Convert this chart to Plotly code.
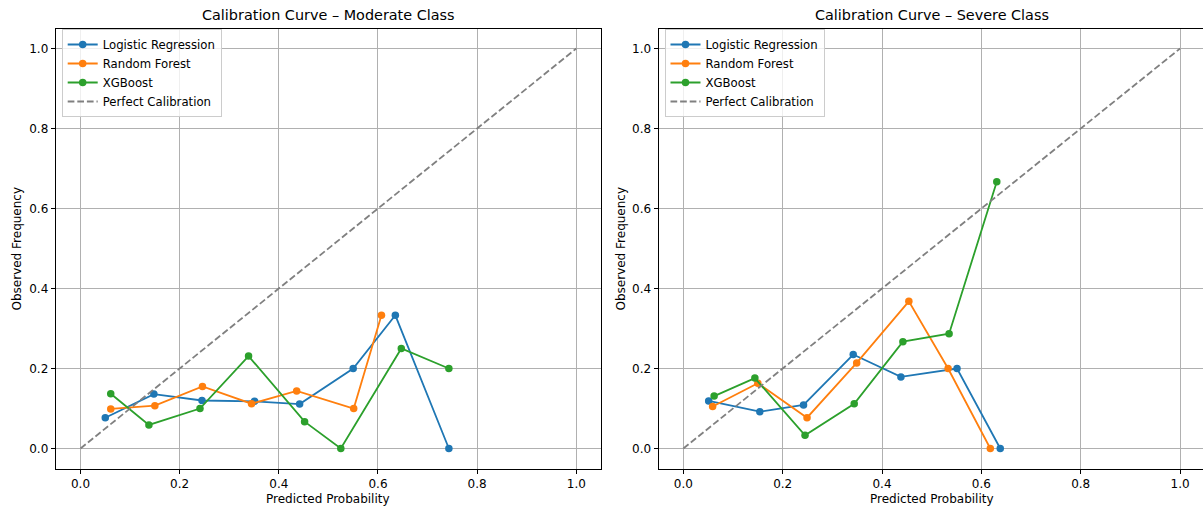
import plotly.graph_objects as go

# ---- data ----
mod_lr_x = [0.050, 0.148, 0.245, 0.351, 0.442, 0.550, 0.635, 0.743]
mod_lr_y = [0.077, 0.136, 0.120, 0.118, 0.111, 0.200, 0.333, 0.000]
mod_rf_x = [0.061, 0.150, 0.246, 0.345, 0.436, 0.551, 0.607]
mod_rf_y = [0.099, 0.107, 0.155, 0.112, 0.144, 0.100, 0.333]
mod_xgb_x = [0.061, 0.138, 0.241, 0.339, 0.452, 0.525, 0.647, 0.743]
mod_xgb_y = [0.137, 0.059, 0.100, 0.231, 0.067, 0.000, 0.250, 0.200]

sev_lr_x = [0.051, 0.154, 0.242, 0.342, 0.438, 0.551, 0.638]
sev_lr_y = [0.119, 0.092, 0.109, 0.235, 0.179, 0.200, 0.000]
sev_rf_x = [0.059, 0.150, 0.249, 0.349, 0.454, 0.533, 0.618]
sev_rf_y = [0.105, 0.163, 0.077, 0.214, 0.368, 0.200, 0.000]
sev_xgb_x = [0.062, 0.144, 0.245, 0.344, 0.442, 0.535, 0.631]
sev_xgb_y = [0.131, 0.176, 0.033, 0.112, 0.267, 0.287, 0.667]

perfect_x = [0.0, 1.0]
perfect_y = [0.0, 1.0]

model_names = ["Logistic Regression", "Random Forest", "XGBoost"]
model_colors = ["#1f77b4", "#ff7f0e", "#2ca02c"]
titles = ["Calibration Curve \u2013 Moderate Class", "Calibration Curve \u2013 Severe Class"]
tick_vals = [0.0, 0.2, 0.4, 0.6, 0.8, 1.0]
tick_text = ["0.0", "0.2", "0.4", "0.6", "0.8", "1.0"]

W, H = 1203, 508
FONT = "DejaVu Sans"

fig = go.Figure()

panels = [
    ([(mod_lr_x, mod_lr_y), (mod_rf_x, mod_rf_y), (mod_xgb_x, mod_xgb_y)], "x", "y", "legend"),
    ([(sev_lr_x, sev_lr_y), (sev_rf_x, sev_rf_y), (sev_xgb_x, sev_xgb_y)], "x2", "y2", "legend2"),
]

for series, xa, ya, leg in panels:
    for (xs, ys), name, col in zip(series, model_names, model_colors):
        fig.add_trace(go.Scatter(
            x=xs, y=ys, mode="lines+markers", name=name,
            line=dict(color=col, width=1.8),
            marker=dict(color=col, size=7.5),
            xaxis=xa, yaxis=ya, legend=leg,
        ))
    fig.add_trace(go.Scatter(
        x=perfect_x, y=perfect_y, mode="lines", name="Perfect Calibration",
        line=dict(color="#808080", width=1.8, dash="6.7px,2.9px"),
        xaxis=xa, yaxis=ya, legend=leg,
    ))

# geometry in pixels
lx0, lx1 = 55.7, 601.1
rx0, rx1 = 658.5, 1203.0
ytop, ybot = 28.5, 468.5
ydom = [(H - ybot) / H, (H - ytop) / H]

axis_common = dict(
    showgrid=True, gridcolor="#b0b0b0", gridwidth=1,
    showline=True, linecolor="black", linewidth=1,
    ticks="outside", ticklen=4, tickwidth=1, tickcolor="black",
    tickvals=tick_vals, ticktext=tick_text,
    tickfont=dict(family=FONT, size=12, color="black"),
    zeroline=False, automargin=False,
)

legend_common = dict(
    xanchor="left", yanchor="top",
    bgcolor="rgba(255,255,255,0.8)", bordercolor="#cccccc", borderwidth=1,
    font=dict(family=FONT, size=11.7, color="black"),
)

fig.update_layout(
    width=W, height=H,
    margin=dict(l=0, r=0, t=0, b=0),
    paper_bgcolor="white", plot_bgcolor="white",
    font=dict(family=FONT, size=12, color="black"),
    xaxis=dict(domain=[lx0 / W, lx1 / W], range=[-0.05, 1.05], anchor="y", mirror=True, **axis_common),
    yaxis=dict(domain=ydom, range=[-0.05, 1.05], anchor="x", mirror=True, **axis_common),
    xaxis2=dict(domain=[rx0 / W, rx1 / W], range=[-0.05, 1.05 - (1204.9 - 1203.0) / 496.7],
                anchor="y2", mirror=True, **axis_common),
    yaxis2=dict(domain=ydom, range=[-0.05, 1.05], anchor="x2", mirror=False, **axis_common),
    legend=dict(x=61.7 / W, y=(H - 29) / H, **legend_common),
    legend2=dict(x=(61.7 + 602.8) / W, y=(H - 29) / H, **legend_common),
    showlegend=True,
)

annotations = []
for cx, t in [((lx0 + lx1) / 2, titles[0]), ((rx0 + 1204.9) / 2, titles[1])]:
    annotations.append(dict(
        x=cx / W, y=(H - 15) / H, xref="paper", yref="paper",
        text=t, showarrow=False, xanchor="center", yanchor="middle",
        font=dict(family=FONT, size=14.4, color="black"),
    ))
    annotations.append(dict(
        x=cx / W, y=(H - 499) / H, xref="paper", yref="paper",
        text="Predicted Probability", showarrow=False, xanchor="center", yanchor="middle",
        font=dict(family=FONT, size=12, color="black"),
    ))
for lx in [16, 620]:
    annotations.append(dict(
        x=lx / W, y=(H - (ytop + ybot) / 2) / H, xref="paper", yref="paper",
        text="Observed Frequency", showarrow=False, textangle=-90,
        xanchor="center", yanchor="middle",
        font=dict(family=FONT, size=12, color="black"),
    ))
fig.update_layout(annotations=annotations)

fig.write_html(
    "out.html",
    config={"displayModeBar": False},
    post_script="document.body.style.margin='0';document.body.style.padding='0';document.body.style.overflow='hidden';",
)
